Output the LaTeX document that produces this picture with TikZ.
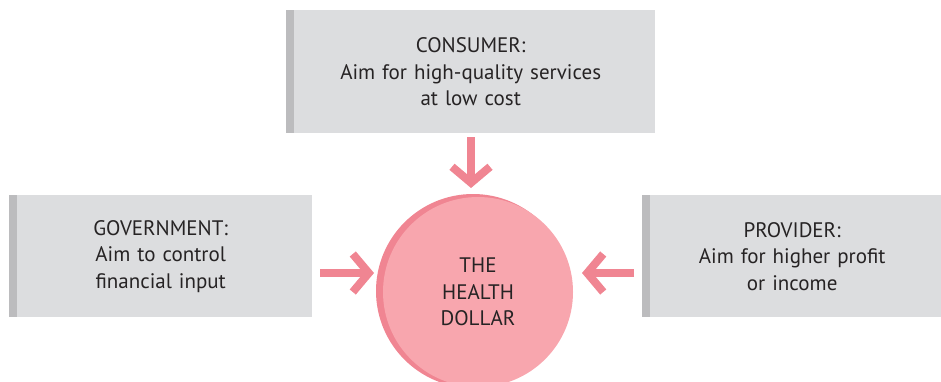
\documentclass[tikz,border=0pt]{standalone}
\usepackage{fontspec}
\setmainfont{PT Sans}
\usetikzlibrary{arrows.meta}
\definecolor{boxfill}{HTML}{DCDDDF}
\definecolor{strip}{HTML}{BCBCBE}
\definecolor{arrowpink}{HTML}{F08592}
\definecolor{lightpink}{HTML}{F8A6AE}
\definecolor{txt}{HTML}{262324}
\tikzset{
  infobox/.style={fill=boxfill, inner sep=0pt, text width=#1, align=center,
    font=\fontsize{21}{26.5}\selectfont, text=txt},
  stripline/.style={fill=strip},
  arr/.style={draw=arrowpink, line width=8pt,
    -{Straight Barb[length=16pt,width=38pt,line width=8pt,line join=miter,line cap=butt]}},
  dollartext/.style={font=\fontsize{21}{26.5}\selectfont, text=txt, align=center}
}
\begin{document}
\begin{tikzpicture}[x=1pt,y=-1pt]
\useasboundingbox (0,0) rectangle (941,381);
% boxes
\node[infobox=369pt, minimum height=123pt, anchor=north west] (cons) at (286,10)
  {CONSUMER:\\Aim for high-quality services\\at low cost};
\fill[stripline] (cons.north west) rectangle ([xshift=8pt]cons.south west);
\node[infobox=303pt, minimum height=122pt, anchor=north west] (gov) at (9,195)
  {GOVERNMENT:\\Aim to control\\financial input};
\fill[stripline] (gov.north west) rectangle ([xshift=8pt]gov.south west);
\node[infobox=300pt, minimum height=122pt, anchor=north west] (prov) at (642,195)
  {PROVIDER:\\Aim for higher profit\\or income};
\fill[stripline] (prov.north west) rectangle ([xshift=8pt]prov.south west);
% circle
\node[circle, fill=arrowpink, minimum size=194pt, inner sep=0pt] (shadow) at (473,291) {};
\node[circle, fill=lightpink, minimum size=190pt, inner sep=0pt, dollartext] (hd) at (478,292)
  {THE\\HEALTH\\DOLLAR};
% arrows
\coordinate (ta) at (471,137);
\coordinate (tb) at (471,188);
\coordinate (la) at (320,273);
\coordinate (lb) at (374,273);
\coordinate (ra) at (634,273);
\coordinate (rb) at (582,273);
\draw[arr] (ta) -- (tb);
\draw[arr] (la) -- (lb);
\draw[arr] (ra) -- (rb);
\end{tikzpicture}
\end{document}
